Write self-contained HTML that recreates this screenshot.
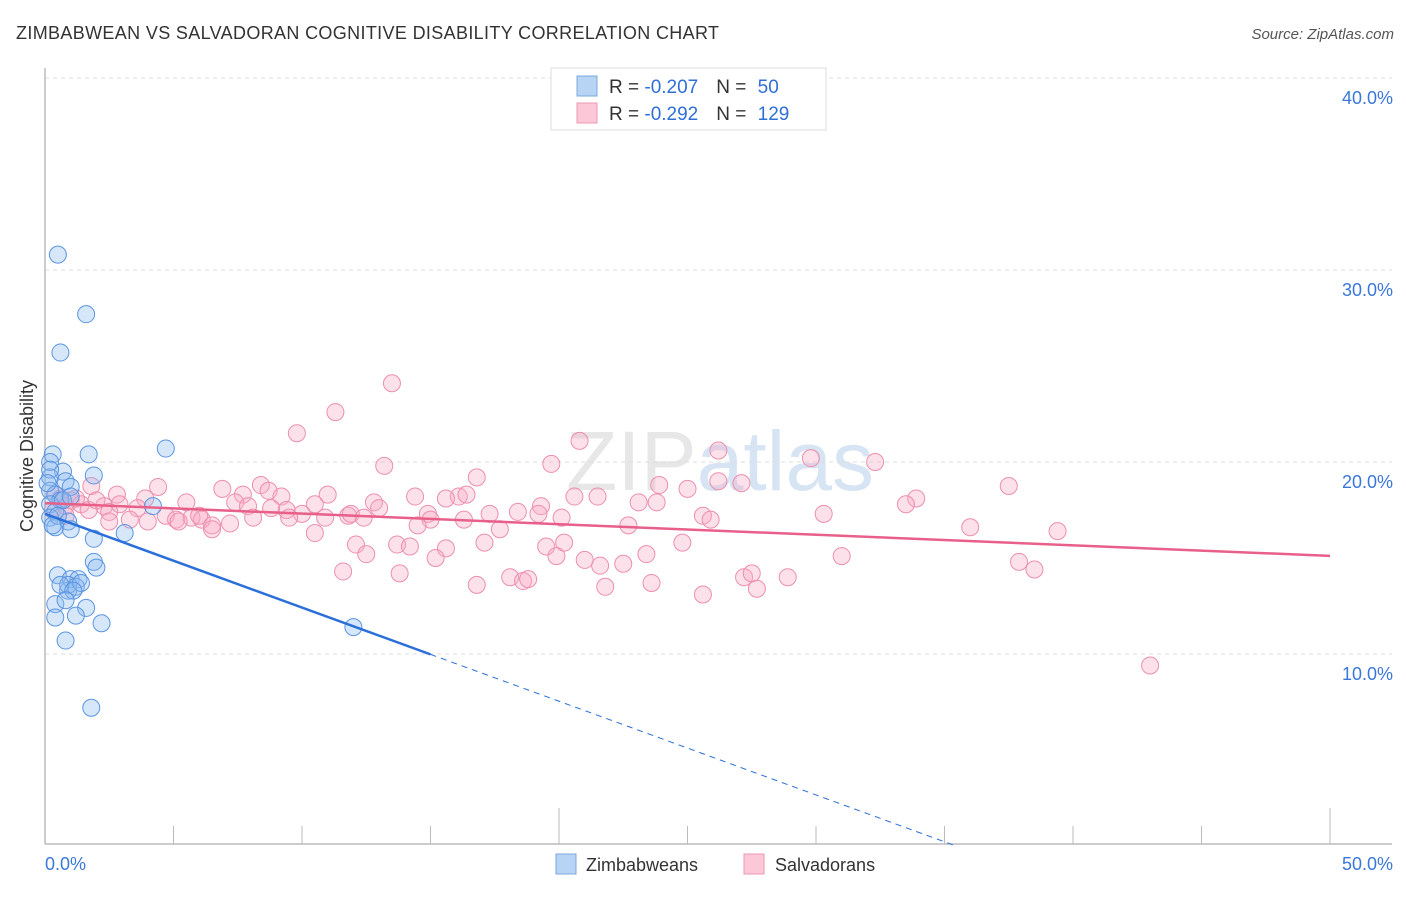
<!DOCTYPE html>
<html><head><meta charset="utf-8"><style>
body{margin:0;background:#fff;font-family:"Liberation Sans",sans-serif}
svg text{font-family:"Liberation Sans",sans-serif}
</style></head><body>
<svg id="chart" width="1406" height="892" viewBox="0 0 1406 892">
<text x="16" y="39" font-size="18" fill="#333" textLength="703">ZIMBABWEAN VS SALVADORAN COGNITIVE DISABILITY CORRELATION CHART</text>
<text x="1394" y="39" font-size="15" fill="#555" text-anchor="end" font-style="italic">Source: ZipAtlas.com</text>
<text x="720" y="490" font-size="84" text-anchor="middle" fill="#ccc" opacity="0.45" font-family="Liberation Serif">ZIP<tspan fill="#a8c4e8" font-family="Liberation Sans">atlas</tspan></text>
<g id="grid"></g>
<g id="axes"></g>
<g id="pts"></g>
<g id="trend"></g>
<text transform="translate(33,456) rotate(-90)" font-size="18" fill="#333" text-anchor="middle">Cognitive Disability</text>
<g>
<rect x="551" y="68" width="275" height="62" fill="#fff" stroke="#ddd"/>
<rect x="577" y="76" width="20" height="20" fill="#b8d4f5" stroke="#7aa8e0"/>
<rect x="577" y="103" width="20" height="20" fill="#fcc8d8" stroke="#eb9ab4"/>
<text x="609" y="93" font-size="19" fill="#333">R = <tspan fill="#2f6fd6">-0.207</tspan><tspan dx="18">N = </tspan><tspan fill="#2f6fd6" dx="6">50</tspan></text>
<text x="609" y="120" font-size="19" fill="#333">R = <tspan fill="#2f6fd6">-0.292</tspan><tspan dx="18">N = </tspan><tspan fill="#2f6fd6" dx="6">129</tspan></text>
</g>
<g>
<rect x="556" y="854" width="20" height="20" fill="#b8d4f5" stroke="#7aa8e0"/>
<text x="586" y="871" font-size="18" fill="#333">Zimbabweans</text>
<rect x="744" y="854" width="20" height="20" fill="#fcc8d8" stroke="#eb9ab4"/>
<text x="775" y="871" font-size="18" fill="#333">Salvadorans</text>
</g>
</svg>
<script>
const yTicks=[10,20,30,40];
const xTickLabels=["0.0%","50.0%"];
const blueX=[0.5,1.6,0.6,4.7,1.7,0.3,0.2,0.7,1.9,0.2,0.8,1.0,0.2,0.4,0.6,0.2,4.2,0.4,0.2,0.9,0.4,1.0,3.1,1.9,1.9,2.0,0.5,1.0,0.9,1.3,0.9,1.2,0.6,1.4,1.1,0.4,1.6,0.8,0.4,1.2,2.2,0.8,12.0,1.8,0.2,0.7,0.1,0.5,1.0,0.3];
const blueY=[30.8,27.7,25.7,20.7,20.4,20.4,20.0,19.5,19.3,19.2,19.0,18.7,18.5,18.3,18.0,17.8,17.7,17.4,17.1,16.9,16.6,16.5,16.3,16.0,14.8,14.5,14.1,13.9,13.3,13.9,13.6,13.5,13.6,13.7,13.3,12.6,12.4,12.8,11.9,12.0,11.6,10.7,11.4,7.2,19.6,18.0,18.9,17.2,18.2,16.7];
const pinkX=[13.5,11.3,9.8,20.8,26.2,13.2,19.7,29.8,32.3,16.8,4.4,6.9,8.4,8.7,23.9,25.0,26.2,27.1,37.5,1.8,2.8,3.9,7.7,9.2,11.0,14.4,16.1,16.4,20.6,21.5,33.9,0.4,0.6,1.0,0.8,1.4,2.3,5.5,7.4,10.5,12.8,15.6,23.1,23.8,33.5,0.3,1.7,2.5,3.6,4.7,7.9,9.4,10.0,11.8,11.9,13.0,14.9,17.3,18.4,19.3,19.2,25.6,30.3,3.3,4.0,5.1,5.7,6.1,8.1,9.5,10.9,12.4,15.0,16.3,20.1,25.9,2.5,5.2,6.5,7.2,6.5,14.5,22.7,36.0,10.5,17.7,39.4,12.1,17.1,20.2,24.8,13.7,14.2,15.6,19.5,12.5,19.9,23.4,31.0,15.2,21.0,21.6,22.5,37.9,38.5,11.6,13.8,18.1,18.6,18.8,27.2,27.5,28.9,16.8,23.6,21.8,27.7,25.6,43.0,0.8,1.2,2.0,2.9,6.0,8.8];
const pinkY=[24.1,22.6,21.5,21.1,20.6,19.8,19.9,20.2,20.0,19.2,18.7,18.6,18.8,18.5,18.8,18.6,19.0,18.9,18.75,18.75,18.3,18.1,18.3,18.2,18.3,18.2,18.2,18.3,18.2,18.2,18.1,18.3,18.1,18.0,17.7,17.8,17.7,17.9,17.9,17.8,17.9,18.1,17.9,17.9,17.8,17.5,17.5,17.4,17.6,17.2,17.7,17.5,17.3,17.2,17.3,17.6,17.3,17.3,17.4,17.7,17.3,17.2,17.3,17.0,16.9,17.0,17.1,17.0,17.1,17.1,17.1,17.1,17.0,17.0,17.1,17.0,16.9,16.9,16.7,16.8,16.5,16.7,16.7,16.6,16.3,16.5,16.4,15.7,15.8,15.8,15.8,15.7,15.6,15.5,15.6,15.2,15.1,15.2,15.1,15.0,14.9,14.6,14.7,14.8,14.4,14.3,14.2,14.0,13.8,13.9,14.0,14.2,14.0,13.6,13.7,13.5,13.4,13.1,9.4,17.2,18.1,18.0,17.8,17.2,17.6];
const blueTrend=[17.3,-0.488];
const pinkTrend=[17.86,-0.055];
const NS="http://www.w3.org/2000/svg";
const X=v=>45+v*25.7, Y=v=>846-v*19.2;
function mk(tag,attrs,parent){const e=document.createElementNS(NS,tag);for(const k in attrs)e.setAttribute(k,attrs[k]);document.getElementById(parent).appendChild(e);return e;}
yTicks.forEach(t=>{
 const l=mk('line',{x1:45,x2:1392,y1:Y(t),y2:Y(t),stroke:'#ddd','stroke-dasharray':'4,4'},'grid');
 
 
 const tx=mk('text',{x:1393,y:Y(t)+26,'font-size':18,fill:'#3a78d8','text-anchor':'end'},'grid');
 tx.textContent=t.toFixed(1)+'%';
 
 
});
mk('line',{x1:45,x2:45,y1:68,y2:844,stroke:'#bbb','stroke-width':1.5},'axes');
mk('line',{x1:45,x2:1392,y1:844,y2:844,stroke:'#bbb','stroke-width':1.5},'axes');
for(let i=0;i<=10;i++){const x=X(i*5);const l=mk('line',{x1:x,x2:x,y1:(i==4||i==10)?808:826,y2:844,stroke:'#bbb'},'axes');
 
 }
[[0,'start',45],[50,'end',1393]].forEach((a,i)=>{const t=mk('text',{x:a[2],y:870,'font-size':18,fill:'#3a78d8','text-anchor':a[1]},'axes');t.textContent=xTickLabels[i];
 
 });
pinkX.forEach((x,i)=>{const c=mk('circle',{cx:X(x),cy:Y(pinkY[i]),r:8.5,fill:'rgba(248,170,195,0.35)',stroke:'#ec8fad','stroke-width':1},'pts');
 
 });
blueX.forEach((x,i)=>{const c=mk('circle',{cx:X(x),cy:Y(blueY[i]),r:8.5,fill:'rgba(140,185,240,0.35)',stroke:'#5b95e0','stroke-width':1},'pts');
 
 });
const bf=v=>blueTrend[0]+blueTrend[1]*v, pf=v=>pinkTrend[0]+pinkTrend[1]*v;
const bEnd=-blueTrend[0]/blueTrend[1];
let l=mk('line',{x1:X(0),y1:Y(bf(0)),x2:X(15),y2:Y(bf(15)),stroke:'#2b6fd8','stroke-width':2.5},'trend');


l=mk('line',{x1:X(15),y1:Y(bf(15)),x2:X(bEnd),y2:Y(0),stroke:'#2b6fd8','stroke-width':1,'stroke-dasharray':'6,5'},'trend');


l=mk('line',{x1:X(0),y1:Y(pf(0)),x2:X(50),y2:Y(pf(50)),stroke:'#e8608a','stroke-width':2.5},'trend');


</script>
</body></html>
